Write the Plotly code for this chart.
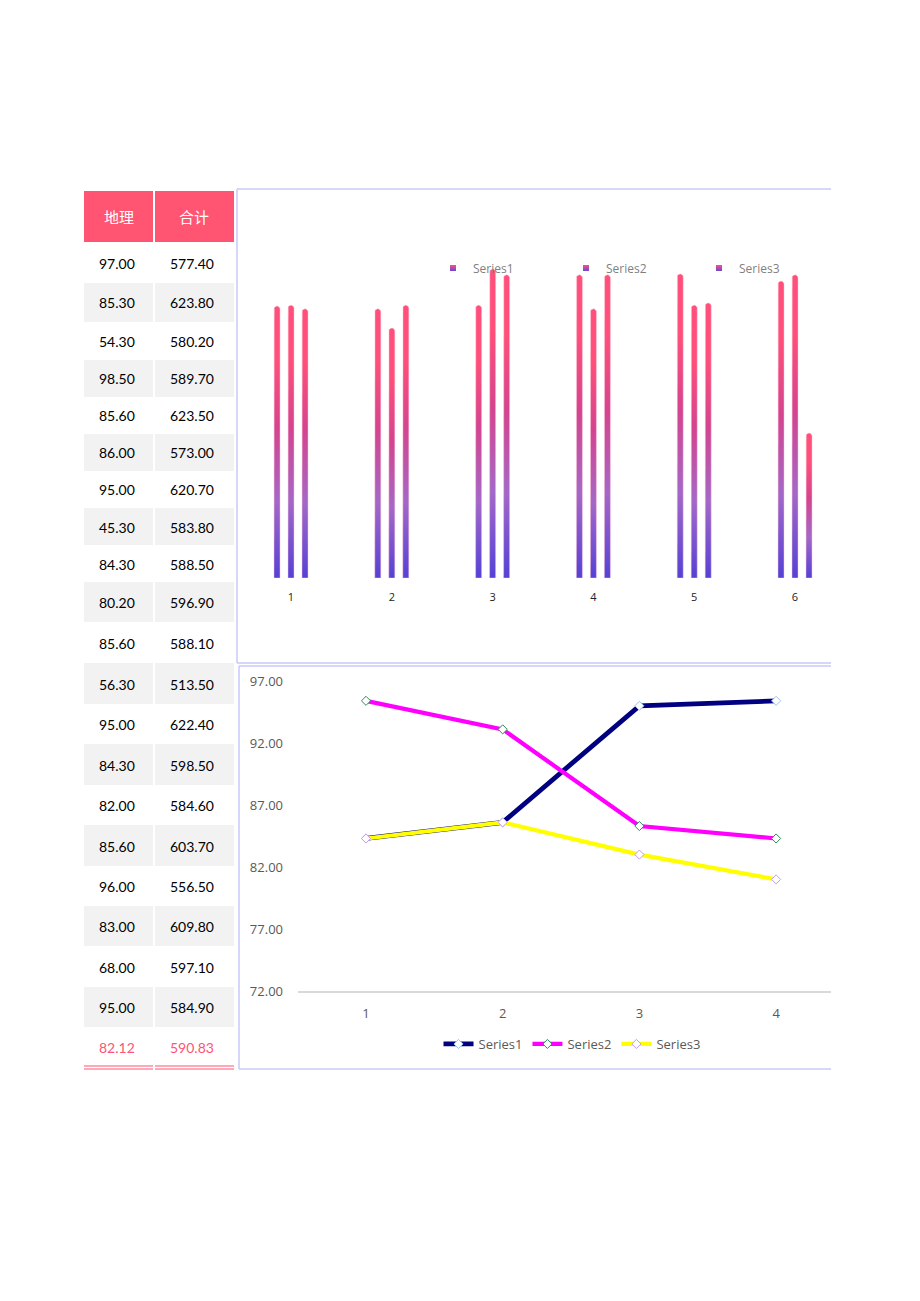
import numpy as np
import plotly.graph_objects as go

W, H = 920, 1301
PAGE_PAD = 8  # default body margin of the html page

# ---- table data
headers = ["地理", "合计"]
geo = [97.00, 85.30, 54.30, 98.50, 85.60, 86.00, 95.00, 45.30, 84.30, 80.20,
       85.60, 56.30, 95.00, 84.30, 82.00, 85.60, 96.00, 83.00, 68.00, 95.00]
total = [577.40, 623.80, 580.20, 589.70, 623.50, 573.00, 620.70, 583.80, 588.50, 596.90,
         588.10, 513.50, 622.40, 598.50, 584.60, 603.70, 556.50, 609.80, 597.10, 584.90]
avg_row = [82.12, 590.83]

# ---- bar chart data
series_names = ["Series1", "Series2", "Series3"]
bar_cats = [1, 2, 3, 4, 5, 6]
bar_s1 = [88.0, 87.1, 88.3, 98.1, 98.4, 96.1]
bar_s2 = [88.3, 80.9, 100.0, 87.1, 88.3, 98.1]
bar_s3 = [87.1, 88.3, 98.1, 98.1, 89.0, 46.9]

# ---- line chart data
line_cats = [1, 2, 3, 4]
line_s1 = [84.3, 85.6, 95.0, 95.4]
line_s2 = [95.4, 93.1, 85.3, 84.3]
line_s3 = [84.3, 85.6, 83.0, 81.0]


def fx(px):
    return (px - PAGE_PAD) / W


def fy(py):
    return 1 - (py - PAGE_PAD) / H


PINK = '#FF5472'
BORDER = '#C9C9F7'
grad = [[0, '#5441D6'], [0.28, '#A368C8'], [0.55, '#D4448F'], [0.8, '#FF4F7A'], [1, '#FF4F7A']]

# bar axis geometry (pixels)
bar_step = 100.8
bar_first = 291
bar_left, bar_right = 237, 831
bar_base, bar_top = 578, 269
bar_ymax = 100.0
x_per_px = 1 / bar_step
y_per_px = bar_ymax / (bar_base - bar_top)

traces = []
offsets = [-14, 0, 14]
for si, vals in enumerate([bar_s1, bar_s2, bar_s3]):
    for c, v in zip(bar_cats, vals):
        cx = c + offsets[si] * x_per_px
        hw = 3 * x_per_px
        ry = 3 * y_per_px
        t = np.linspace(np.pi, 0, 9)
        xs = [cx - hw] + list(cx + hw * np.cos(t)) + [cx + hw, cx - hw]
        ys = [0] + list(v - ry + ry * np.sin(t)) + [0, 0]
        traces.append(go.Scatter(
            x=xs, y=ys, mode='lines', fill='toself',
            fillgradient=dict(type='vertical', colorscale=grad),
            line=dict(width=0.8, color='rgba(255,190,210,0.6)'),
            showlegend=False, hoverinfo='skip', xaxis='x', yaxis='y'))

for name in series_names:
    traces.append(go.Scatter(
        x=[None], y=[None], mode='markers', name=name, legend='legend',
        marker=dict(symbol='square', size=6, color='#FF4F7A',
                    gradient=dict(type='vertical', color='#6A48D8')),
        xaxis='x', yaxis='y'))

line_colors = ['#000080', '#FF00FF', '#FFFF00']
marker_lines = ['#9DC3E6', '#2E8B57', '#C39BF0']
widths = [4.8, 4.2, 4.2]
for name, vals, lc, ml, lw in zip(series_names, [line_s1, line_s2, line_s3],
                                  line_colors, marker_lines, widths):
    traces.append(go.Scatter(
        x=line_cats, y=vals, mode='lines+markers', name=name, legend='legend2',
        line=dict(color=lc, width=lw),
        marker=dict(symbol='diamond', size=7, color='white', line=dict(color=ml, width=1)),
        xaxis='x2', yaxis='y2'))

# ---- table drawn as shapes + annotations
col_edges = [(84, 153), (155, 234)]
col_centers = [117, 192]
row_edges = [243, 283, 323, 360, 398, 434, 472, 508, 546, 582, 623,
             663, 705, 744, 786, 825, 867, 906, 947, 987, 1028, 1066]
shapes = []
annotations = []
tfont = "Lato, Noto Sans CJK SC, sans-serif"

for (x0, x1), cx, h in zip(col_edges, [119, 194], headers):
    shapes.append(dict(type='rect', xref='paper', yref='paper', x0=fx(x0), x1=fx(x1),
                       y0=fy(242), y1=fy(191), fillcolor=PINK, line=dict(width=0), layer='below'))
    annotations.append(dict(x=fx(cx), y=fy(216.5), xref='paper', yref='paper', text=h,
                            xanchor='center', yanchor='middle', showarrow=False,
                            font=dict(size=15, color='white', family=tfont)))

rows = [[g, t] for g, t in zip(geo, total)] + [avg_row]
for i, row in enumerate(rows):
    top, bot = row_edges[i], row_edges[i + 1]
    is_avg = i == len(rows) - 1
    fill = '#F2F2F2' if i % 2 == 1 else 'white'
    for (x0, x1), cx, val in zip(col_edges, col_centers, row):
        shapes.append(dict(type='rect', xref='paper', yref='paper', x0=fx(x0), x1=fx(x1),
                           y0=fy(bot - 1), y1=fy(top), fillcolor=fill, line=dict(width=0), layer='below'))
        annotations.append(dict(x=fx(cx), y=fy((top + bot) / 2), xref='paper', yref='paper',
                                text=f"{val:.2f}", xanchor='center', yanchor='middle', showarrow=False,
                                font=dict(size=14, color=PINK if is_avg else '#000000', family=tfont)))

for (x0, x1) in col_edges:
    for yy in (1066, 1069):
        shapes.append(dict(type='line', xref='paper', yref='paper', x0=fx(x0), x1=fx(x1),
                           y0=fy(yy), y1=fy(yy), line=dict(color=PINK, width=1.2)))

# chart panel borders (clipped at right edge of page area)
for x0, ytop, ybot in [(237, 189, 663), (239, 666, 1069)]:
    shapes.append(dict(type='line', xref='paper', yref='paper', x0=fx(x0), x1=fx(831),
                       y0=fy(ytop), y1=fy(ytop), line=dict(color=BORDER, width=1.5)))
    shapes.append(dict(type='line', xref='paper', yref='paper', x0=fx(x0), x1=fx(831),
                       y0=fy(ybot), y1=fy(ybot), line=dict(color=BORDER, width=1.5)))
    shapes.append(dict(type='line', xref='paper', yref='paper', x0=fx(x0), x1=fx(x0),
                       y0=fy(ytop), y1=fy(ybot), line=dict(color=BORDER, width=1.5)))

cfont = "Open Sans, sans-serif"
line_step = 136.7
layout = go.Layout(
    width=W, height=H,
    margin=dict(l=0, r=0, t=0, b=0, pad=0, autoexpand=False),
    paper_bgcolor='white', plot_bgcolor='rgba(0,0,0,0)',
    showlegend=True,
    xaxis=dict(domain=[fx(bar_left), fx(bar_right)],
               range=[1 - (bar_first - bar_left) / bar_step, 1 + (bar_right - bar_first) / bar_step],
               tickvals=bar_cats, showgrid=False, zeroline=False, showline=False, ticks='',
               ticklabelstandoff=11, tickfont=dict(size=11, color='#222222', family=cfont),
               anchor='y', fixedrange=True),
    yaxis=dict(domain=[fy(bar_base), fy(bar_top)], range=[0, bar_ymax], visible=False,
               anchor='x', fixedrange=True),
    xaxis2=dict(domain=[fx(298), fx(831)],
                range=[1 - (366 - 298) / line_step, 1 + (831 - 366) / line_step],
                tickvals=line_cats, showgrid=False, zeroline=False, showline=True,
                linecolor='#D9D9D9', linewidth=1.5, ticks='', ticklabelstandoff=10,
                tickfont=dict(size=13, color='#595959', family=cfont), anchor='y2'),
    yaxis2=dict(domain=[fy(991), fy(681)], range=[72, 97], tick0=72, dtick=5,
                tickformat='.2f', showgrid=False, zeroline=False, showline=False, ticks='',
                ticklabelstandoff=14, tickfont=dict(size=13, color='#595959', family=cfont),
                anchor='x2'),
    legend=dict(orientation='h', x=fx(433), xanchor='left', y=fy(268), yanchor='middle',
                font=dict(size=12, color='#7F7F7F', family=cfont),
                entrywidth=88, entrywidthmode='pixels', bgcolor='rgba(0,0,0,0)'),
    legend2=dict(orientation='h', x=fx(572), xanchor='center', y=fy(1044), yanchor='middle',
                 font=dict(size=13, color='#595959', family=cfont), bgcolor='rgba(0,0,0,0)'),
    shapes=shapes,
    annotations=annotations,
)

fig = go.Figure(data=traces, layout=layout)
fig.write_html("out.html")
